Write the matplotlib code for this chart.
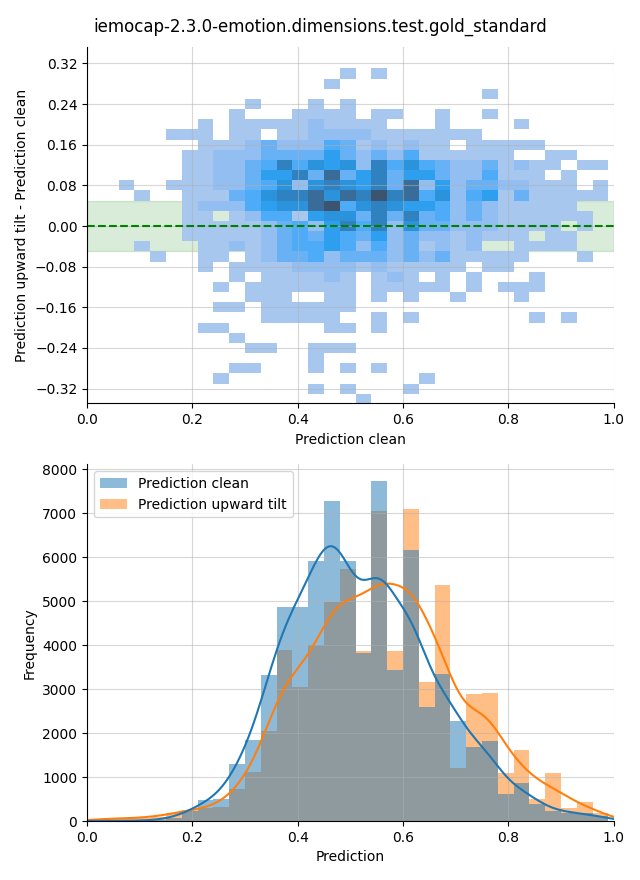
import numpy as np
import pandas as pd
import matplotlib
matplotlib.use("Agg")
import matplotlib.pyplot as plt
import seaborn as sns

TITLE = "iemocap-2.3.0-emotion.dimensions.test.gold_standard"

# --- top panel: 2D histogram of (clean, tilt - clean) -----------------------
X_EDGES = np.linspace(0.06, 0.99, 32)
Y_EDGES = np.linspace(-0.35, 0.31, 34)

# one string per y bin, top row first (0.29..0.31); '.' = empty cell,
# digits = read-off count level
DIFF_GRID = [
    ".......... ....1.1... .......... .",
    ".......... ...1...... .......... .",
    ".......... .......... ...1...... .",
    "........1. ..1.1..... .......... .",
    ".......1.. .1111.11.. 1..1...... .",
    ".....1.111 1121111... 1....1.... .",
    "...111.11. 1122221111 111....... .",
    ".....11123 2224312121 1.11111... .",
    "....112223 3335323241 11111..11. .",
    "....112234 7465627464 32231211.1 1",
    "....112235 5738357355 3224111.1. .",
    "1..1112234 6267657382 523322111. 1",
    ".1..111346 7786879784 6245131111 1",
    "....122245 6689467655 423211111. .",
    "....11.124 4156637373 4232111111 .",
    "....111112 3425747263 32221111.1 .",
    "....111112 3435435232 212111.11. .",
    ".1...11212 3445424231 212..1111. .",
    "..1..11.12 3342333232 311111...1 .",
    ".....1.111 1222212111 11.11..... .",
    ".......1.1 11121.121. 1.1...1... .",
    "......1.11 11111.1111 1.1.111... .",
    "........11 1..11.1.1. .1...1.... .",
    "......11.1 11111..... .......... .",
    ".........1 1111..1.1. ......1.1. .",
    ".....11... ...11.1... .......... .",
    ".......1.. .......... .......... .",
    "........11 ..111..... .......... .",
    ".......... ..1....... .......... .",
    ".......11. ..1.1.1... .......... .",
    "......1... .........1 .......... .",
    ".......... ..1.1...1. .......... .",
    ".......... .....1.... .......... .",
]
LEVEL_COUNTS = {"1": 1, "2": 5, "3": 11, "4": 14, "5": 19,
                "6": 24, "7": 31, "8": 40, "9": 50}

# --- bottom panel: histograms of both predictions ---------------------------
HIST_EDGES = np.linspace(0.0, 0.99, 34)
clean_counts = [0, 0, 5, 10, 20, 60, 220, 480, 500, 1300, 1845, 3326, 4870,
                4870, 5920, 7265, 5900, 3830, 7720, 3430, 6160, 2600, 3350,
                2280, 1685, 1830, 615, 873, 387, 235, 190, 180, 110]
tilt_counts = [40, 60, 60, 70, 100, 175, 260, 290, 330, 730, 1124, 2035, 3895,
               3036, 4010, 4970, 5720, 3870, 7040, 3870, 7085, 3166, 5375,
               1215, 2890, 2915, 1100, 1617, 500, 1093, 296, 433, 180]
LABELS = ["Prediction clean", "Prediction upward tilt"]


def grid_to_cells():
    xs, ys, ws = [], [], []
    x_mid = (X_EDGES[:-1] + X_EDGES[1:]) / 2
    y_mid = ((Y_EDGES[:-1] + Y_EDGES[1:]) / 2)[::-1]
    for r, row in enumerate(DIFF_GRID):
        row = row.replace(" ", "")
        for c, ch in enumerate(row):
            if ch != ".":
                xs.append(x_mid[c])
                ys.append(y_mid[r])
                ws.append(LEVEL_COUNTS[ch])
    return xs, ys, ws


def main():
    fig, (ax1, ax2) = plt.subplots(2, 1, figsize=(6.4, 8.8))
    fig.subplots_adjust(left=0.136, right=0.959, top=0.947, bottom=0.067,
                        hspace=0.171)

    xs, ys, ws = grid_to_cells()
    ax1.axhspan(-0.05, 0.05, color="green", alpha=0.15, zorder=0)
    sns.histplot(x=xs, y=ys, weights=ws,
                 bins=[list(X_EDGES), list(Y_EDGES)], ax=ax1)
    ax1.axhline(0, color="green", linestyle="--")
    ax1.set_xlim(0, 1)
    ax1.set_ylim(-0.349, 0.353)
    ax1.set_yticks(np.linspace(-0.32, 0.32, 9))
    ax1.grid(alpha=0.5)
    ax1.set_xlabel("Prediction clean")
    ax1.set_ylabel("Prediction upward tilt - Prediction clean")

    centers = (HIST_EDGES[:-1] + HIST_EDGES[1:]) / 2
    df = pd.DataFrame({
        "Prediction": np.concatenate([centers, centers]),
        "count": clean_counts + tilt_counts,
        "series": [LABELS[0]] * len(centers) + [LABELS[1]] * len(centers),
    })
    sns.histplot(data=df, x="Prediction", weights="count", hue="series",
                 hue_order=LABELS, bins=list(HIST_EDGES), kde=True,
                 kde_kws={"bw_method": 0.22, "cut": 1}, linewidth=0, ax=ax2)
    sns.move_legend(ax2, "upper left", title=None)
    ax2.set_xlim(0, 1)
    ax2.grid(alpha=0.5)
    ax2.set_ylabel("Frequency")

    sns.despine(fig)
    fig.suptitle(TITLE)
    fig.savefig("out.png", dpi=100)


if __name__ == "__main__":
    main()
